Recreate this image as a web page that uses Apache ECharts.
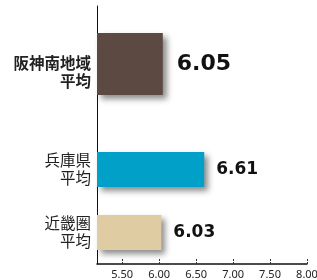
<!DOCTYPE html>
<html lang="ja">
<head>
    <meta charset="UTF-8">
    <title>平均</title>
    <script src="https://cdn.jsdelivr.net/npm/echarts@6/dist/echarts.min.js"></script>
    <style>
        html, body {margin: 0; padding: 0; background: #fff;}
        #main {width: 317px; height: 280px;}
    </style>
</head>
<body>
<div id="main"></div>
<script type="text/javascript">
    // 上段：阪神南地域
    var topCategories = ['阪神南地域\n平均'];
    var topValues = [6.05];
    // 下段：兵庫県・近畿圏（下から順）
    var bottomCategories = ['近畿圏\n平均', '兵庫県\n平均'];
    var bottomValues = [6.03, 6.61];

    var axisMin = 5.16, axisMax = 8.0;
    var barColors = ['#e0cca3', '#00a0c8'];

    var myChart = echarts.init(document.getElementById('main'));

    var shadow = {
        shadowBlur: 6,
        shadowOffsetX: 4,
        shadowOffsetY: 4,
        shadowColor: 'rgba(0, 0, 0, 0.45)'
    };

    var labelFont = 'DejaVu Sans, Verdana, sans-serif';

    var option = {
        animation: false,
        grid: [
            {left: 97, right: 10, top: 6, height: 132, outerBoundsMode: 'none', containLabel: false},
            {left: 97, right: 10, top: 138, bottom: 16, outerBoundsMode: 'none', containLabel: false}
        ],
        xAxis: [
            {gridIndex: 0, type: 'value', min: axisMin, max: axisMax, show: false},
            {
                gridIndex: 1, type: 'value', min: axisMin, max: axisMax,
                splitLine: {show: false},
                axisLine: {show: true, lineStyle: {color: '#111', width: 1.5}},
                axisTick: {show: true, inside: true, length: 6, lineStyle: {color: '#333', type: [2, 1]}},
                axisLabel: {
                    showMinLabel: false,
                    margin: 5,
                    color: '#222',
                    fontSize: 11,
                    fontFamily: 'Noto Sans',
                    formatter: function (v) { return v.toFixed(2); }
                }
            }
        ],
        yAxis: [
            {
                gridIndex: 0, type: 'category', data: topCategories,
                axisLine: {show: true, lineStyle: {color: '#111', width: 1}},
                axisTick: {show: false},
                axisLabel: {
                    margin: 6, color: '#222', fontSize: 15.5, fontWeight: 'bold', lineHeight: 18,
                    align: 'right', fontFamily: 'Noto Sans CJK JP'
                }
            },
            {
                gridIndex: 1, type: 'category', data: bottomCategories,
                axisLine: {show: true, lineStyle: {color: '#111', width: 1}},
                axisTick: {show: false},
                axisLabel: {
                    margin: 6, color: '#222', fontSize: 15.5, lineHeight: 18,
                    align: 'right', fontFamily: 'Noto Sans CJK JP'
                }
            }
        ],
        series: [
            {
                type: 'bar',
                xAxisIndex: 0, yAxisIndex: 0,
                data: topValues,
                barWidth: 62,
                barGap: '-100%',
                itemStyle: Object.assign({color: '#5c4a42'}, shadow),
                label: {
                    show: true, position: 'right', distance: 14,
                    fontSize: 22, fontWeight: 'bold', color: '#111', fontFamily: labelFont,
                    formatter: function (p) { return p.value.toFixed(2); }
                }
            },
            {
                // 上段のバー位置を少し上へずらすための空系列
                type: 'bar',
                xAxisIndex: 0, yAxisIndex: 0,
                data: [null],
                barWidth: 78,
                barGap: '-100%',
                silent: true
            },
            {
                type: 'bar',
                xAxisIndex: 1, yAxisIndex: 1,
                data: bottomValues.map(function (v, i) {
                    return {value: v, itemStyle: {color: barColors[i]}};
                }),
                barWidth: 35,
                itemStyle: shadow,
                label: {
                    show: true, position: 'right', distance: 12,
                    fontSize: 17, fontWeight: 'bold', color: '#111', fontFamily: labelFont,
                    formatter: function (p) { return p.value.toFixed(2); }
                }
            }
        ]
    };
    myChart.setOption(option);
</script>
</body>
</html>
